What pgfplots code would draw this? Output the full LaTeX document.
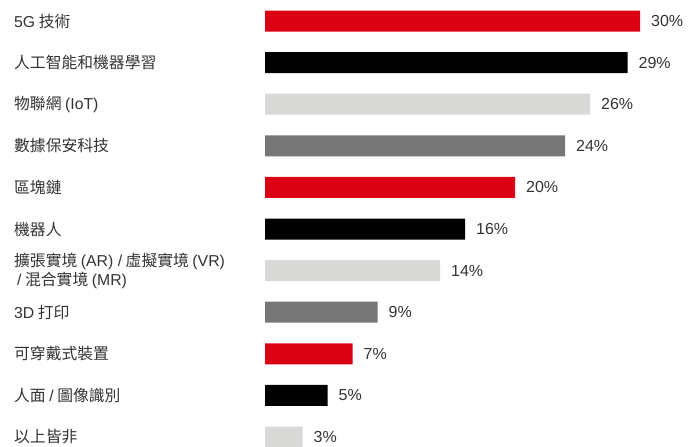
\documentclass[border=0pt]{standalone}
\usepackage{fontspec}
\setmainfont{Noto Sans CJK TC}
\newfontfamily\lat{Liberation Sans}
\usepackage{pgfplots}
\pgfplotsset{compat=1.18}
\definecolor{barred}{HTML}{DC0014}
\definecolor{barblack}{HTML}{000000}
\definecolor{barlight}{HTML}{D9D9D7}
\definecolor{bardark}{HTML}{777777}
\definecolor{txt}{HTML}{333333}
\begin{document}
\begin{tikzpicture}
\useasboundingbox (0,0) rectangle (688bp,447bp);
\begin{axis}[
  at={(265bp,0)}, anchor=south west,
  width=423bp, height=447bp, scale only axis,
  xmin=0, xmax=33.84, ymin=-0.505, ymax=10.24, y dir=reverse,
  axis line style={draw=none},
  xtick=\empty,
  ytick={0,...,10},
  tick style={draw=none},
  major tick length=0pt,
  /pgf/number format/assume math mode=true,
  yticklabels={
    {{\lat 5G} 技術},
    {人工智能和機器學習},
    {物聯網 {\lat (IoT)}},
    {數據保安科技},
    {區塊鏈},
    {機器人},
    {擴張實境 {\lat (AR) /} 虛擬實境 {\lat (VR)}\\\hspace{3bp}{\lat /} 混合實境 {\lat (MR)}},
    {{\lat 3D} 打印},
    {可穿戴式裝置},
    {人面 {\lat /} 圖像識別},
    {以上皆非}},
  yticklabel style={anchor=west, inner sep=0pt, xshift=-251bp, align=left,
    font=\fontsize{15.8bp}{19bp}\selectfont, text=txt},
  xbar, bar width=21bp, bar shift=0pt,
  point meta=x,
  nodes near coords={\lat\pgfmathprintnumber{\pgfplotspointmeta}\%},
  nodes near coords style={anchor=west, inner sep=0pt, xshift=11bp,
    font=\fontsize{16bp}{19bp}\selectfont, text=txt},
  clip=false,
]
\addplot[draw=none, fill=barred] coordinates {(30,0) (20,4) (7,8)};
\addplot[draw=none, fill=barblack] coordinates {(29,1) (16,5) (5,9)};
\addplot[draw=none, fill=barlight] coordinates {(26,2) (14,6) (3,10)};
\addplot[draw=none, fill=bardark] coordinates {(24,3) (9,7)};
\end{axis}
\end{tikzpicture}
\end{document}
